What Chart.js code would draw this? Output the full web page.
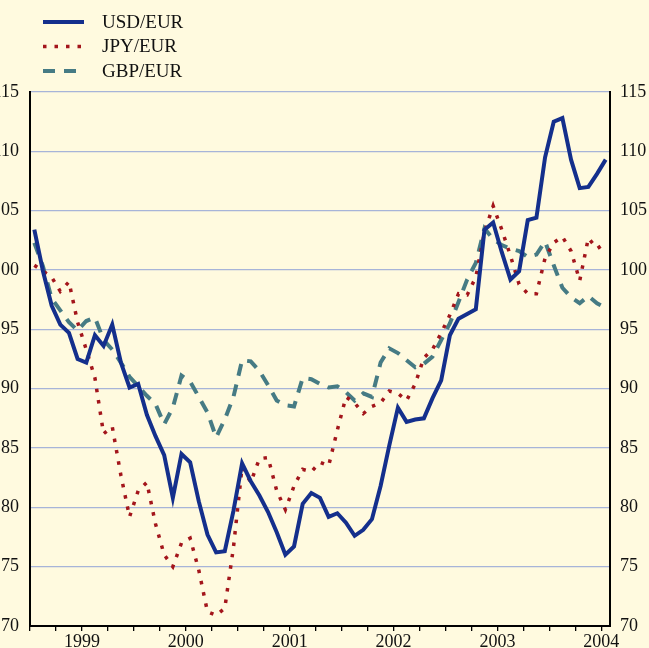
<!DOCTYPE html>
<html>
<head>
<meta charset="utf-8">
<script src="https://cdn.jsdelivr.net/npm/chart.js@4/dist/chart.umd.min.js"></script>
<style>
  html, body { margin: 0; padding: 0; background: #fffadf; }
  #wrap { width: 649px; height: 648px; position: relative; }
</style>
</head>
<body>
<div id="wrap"><canvas id="fxChart"></canvas></div>
<script>
// monthly averages, Jan 1999 - Jul 2004, index (1999Q1 = 100)
const usdEur = [
  103.4, 99.9, 97.0, 95.4, 94.7, 92.5, 92.2, 94.5, 93.6, 95.4, 92.2, 90.1,
  90.4, 87.8, 86.0, 84.4, 80.8, 84.5, 83.8, 80.5, 77.7, 76.2, 76.3, 79.7,
  83.7, 82.2, 81.0, 79.6, 77.9, 76.0, 76.7, 80.3, 81.2, 80.8, 79.2, 79.5,
  78.7, 77.6, 78.1, 79.0, 81.8, 85.2, 88.4, 87.2, 87.4, 87.5, 89.2, 90.7,
  94.5, 95.9, 96.3, 96.7, 103.4, 104.0, 101.5, 99.2, 99.9, 104.2, 104.4, 109.5,
  112.5, 112.8, 109.3, 106.9, 107.0, 108.1, 109.3
];
const jpyEur = [
  100.4, 99.9, 99.4, 98.2, 99.0, 95.6, 93.3, 90.9, 86.2, 86.8, 82.7, 79.2,
  81.4, 82.1, 78.6, 76.0, 75.0, 77.0, 77.4, 74.7, 71.2, 70.9, 71.5, 76.6,
  83.4, 82.1, 84.1, 84.2, 81.4, 79.8, 81.8, 83.2, 83.0, 83.8, 83.5, 86.5,
  89.3, 88.8, 87.9, 88.5, 88.8, 89.8, 89.6, 89.0, 90.4, 92.6, 93.3, 94.7,
  96.2, 98.0, 97.9, 99.4, 103.2, 105.4, 103.4, 101.2, 98.8, 98.0, 98.0, 101.0,
  102.3, 102.8, 101.6, 99.1, 102.7, 101.8, 102.3
];
const gbpEur = [
  102.3, 100.3, 97.6, 96.6, 95.6, 94.9, 95.7, 96.0, 94.1, 93.3, 92.2, 91.0,
  90.2, 89.4, 88.7, 87.0, 88.4, 91.1, 90.6, 89.3, 88.0, 85.9, 87.4, 89.3,
  92.4, 92.3, 91.5, 90.3, 89.0, 88.6, 88.5, 90.9, 90.8, 90.4, 90.1, 90.2,
  89.7, 89.0, 89.6, 89.3, 92.2, 93.4, 93.0, 92.4, 91.8, 92.1, 92.7, 94.1,
  95.5, 97.3, 99.2, 100.6, 103.5, 102.6, 102.1, 101.8, 101.6, 101.1, 101.3, 102.4,
  100.4, 98.5, 97.7, 97.2, 97.8, 97.2, 96.8
];
const yearLabels = ['1999', '2000', '2001', '2002', '2003', '2004'];
const seriesNames = ['USD/EUR', 'JPY/EUR', 'GBP/EUR'];

// each monthly value sits in the middle of its month
const toPoints = arr => arr.map((v, i) => ({ x: i + 0.5, y: v }));

const serif = 'Liberation Serif';
const inkColor = '#111111';

// legend in the top left corner, drawn with each dataset's own line style
const cornerLegend = {
  id: 'cornerLegend',
  afterDraw(chart) {
    const ctx = chart.ctx;
    chart.data.datasets.forEach((ds, i) => {
      const y = 22 + i * 24.5;
      ctx.save();
      ctx.strokeStyle = ds.borderColor;
      ctx.lineWidth = ds.borderWidth;
      ctx.setLineDash(ds.borderDash || []);
      ctx.beginPath();
      ctx.moveTo(43, y);
      ctx.lineTo(84, y);
      ctx.stroke();
      ctx.setLineDash([]);
      ctx.fillStyle = inkColor;
      ctx.font = '19px "' + serif + '"';
      ctx.textBaseline = 'middle';
      ctx.fillText(ds.label, 102, y + 1);
      ctx.restore();
    });
  }
};

new Chart(document.getElementById('fxChart'), {
  type: 'line',
  data: {
    datasets: [
      {
        label: seriesNames[0],
        data: toPoints(usdEur),
        borderColor: '#142f8c',
        borderWidth: 4,
        pointRadius: 0,
        tension: 0
      },
      {
        label: seriesNames[1],
        data: toPoints(jpyEur),
        borderColor: '#a3151b',
        borderWidth: 3.5,
        borderDash: [3.5, 8],
        pointRadius: 0,
        tension: 0
      },
      {
        label: seriesNames[2],
        data: toPoints(gbpEur),
        borderColor: '#467b84',
        borderWidth: 4,
        borderDash: [12, 9],
        pointRadius: 0,
        tension: 0
      }
    ]
  },
  options: {
    responsive: true,
    maintainAspectRatio: false,
    animation: false,
    layout: { padding: { top: 92, left: 0, right: 0, bottom: 0 } },
    plugins: {
      legend: { display: false },
      tooltip: { enabled: false }
    },
    scales: {
      x: {
        type: 'linear',
        min: 0,
        max: 67,
        afterBuildTicks: scale => {
          const ticks = [];
          for (let m = 0; m <= 66; m += 3) ticks.push({ value: m });
          scale.ticks = ticks;
        },
        afterFit: scale => { scale.height = 22; },
        border: { color: '#000', width: 2 },
        grid: { drawOnChartArea: false, drawTicks: true, tickLength: 5, tickColor: '#000', lineWidth: 1.3 },
        ticks: {
          autoSkip: false,
          maxRotation: 0,
          padding: 0,
          color: inkColor,
          font: { family: serif, size: 18 },
          callback: v => (v % 12 === 6 ? yearLabels[(v - 6) / 12] : '')
        }
      },
      y: {
        position: 'left',
        min: 70,
        max: 115,
        afterFit: scale => { scale.width = 30; },
        border: { color: '#000', width: 2 },
        grid: { color: '#a7b4d8', lineWidth: 1.3, drawTicks: false },
        ticks: {
          stepSize: 5,
          padding: 11,
          color: inkColor,
          font: { family: serif, size: 18 }
        }
      },
      y2: {
        position: 'right',
        min: 70,
        max: 115,
        afterFit: scale => { scale.width = 39; },
        border: { color: '#000', width: 2 },
        grid: { drawOnChartArea: false, drawTicks: false },
        ticks: {
          stepSize: 5,
          padding: 10,
          color: inkColor,
          font: { family: serif, size: 18 }
        }
      }
    }
  },
  plugins: [cornerLegend]
});
</script>
</body>
</html>
